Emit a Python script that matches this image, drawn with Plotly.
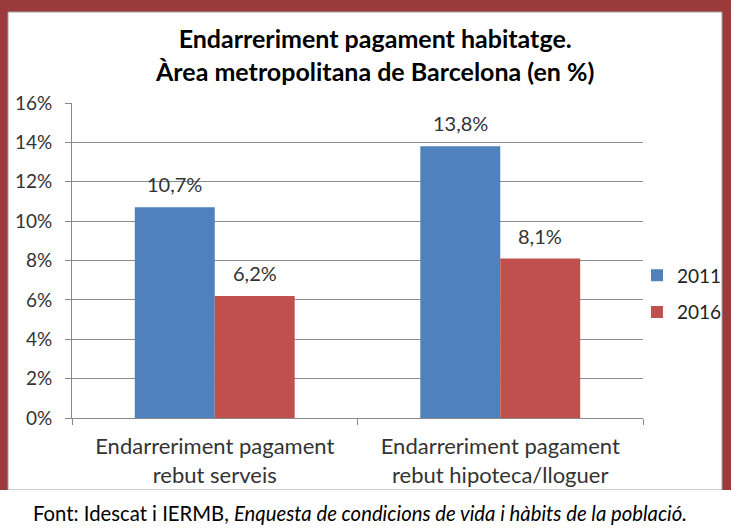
import plotly.graph_objects as go

categories = ["Endarreriment pagament<br>rebut serveis", "Endarreriment pagament<br>rebut hipoteca/lloguer"]
series_names = ["2011", "2016"]
values_2011 = [10.7, 13.8]
values_2016 = [6.2, 8.1]
series_values = [values_2011, values_2016]
colors = ["#4F81BD", "#C0504D"]
tick_vals = [0, 2, 4, 6, 8, 10, 12, 14, 16]
tick_text = [f"{v}%" for v in tick_vals]

W, H = 731, 531
L, R, T, B = 72, 643, 103, 418
pw, ph = R - L, B - T

def px(x):
    return (x - L) / pw

def py(y):
    return (B - y) / ph

FONT = "Lato"
fig = go.Figure()
for i, (name, vals) in enumerate(zip(series_names, series_values)):
    fig.add_trace(go.Bar(x=categories, y=vals, name=name, marker=dict(color=colors[i], line=dict(width=0)),
                         legendgroup=name))

annotations = []
for i, vals in enumerate(series_values):
    for c, v in zip(categories, vals):
        annotations.append(dict(x=c, y=v, xref="x", yref="y", xshift=(-40 if i == 0 else 40), yshift=23,
                                text=(f"{v:.1f}".replace(".", ",") + "%"), showarrow=False,
                                font=dict(family=FONT, size=20, color="#333333"), yanchor="middle"))

annotations.append(dict(x=px(374), y=py(54), xref="paper", yref="paper", showarrow=False,
                        text="<b>Endarreriment pagament habitatge.<br>Àrea metropolitana de Barcelona (en %)</b>",
                        font=dict(family=FONT, size=25, color="#000000"), yanchor="middle", xanchor="center"))
annotations.append(dict(x=px(31), y=py(513), xref="paper", yref="paper", showarrow=False, xanchor="left",
                        yanchor="middle",
                        text="Font: Idescat i IERMB, <i>Enquesta de condicions de vida i hàbits de la població.</i>",
                        font=dict(family=FONT, size=20.3, color="#000000")))

shapes = [
    dict(type="rect", xref="paper", yref="paper", x0=px(8), x1=px(722), y0=py(490), y1=py(12),
         fillcolor="white", line=dict(color="#A0A0A0", width=1), layer="below"),
    dict(type="rect", xref="paper", yref="paper", x0=px(0), x1=px(731), y0=py(531), y1=py(490),
         fillcolor="white", line=dict(width=0), layer="below"),
]

fig.update_layout(
    width=W, height=H,
    margin=dict(l=L, r=W - R, t=T, b=H - B, pad=0, autoexpand=False),
    paper_bgcolor="#9B3A3A",
    plot_bgcolor="white",
    barmode="group",
    bargap=0.44,
    bargroupgap=0,
    separators=",.",
    font=dict(family=FONT, size=17, color="#333333"),
    legend=dict(x=px(637), y=py(294), xanchor="left", yanchor="middle", font=dict(family=FONT, size=19, color="#222222"),
                tracegroupgap=9, bgcolor="rgba(0,0,0,0)", itemwidth=30),
    annotations=annotations,
    shapes=shapes,
    xaxis=dict(showline=True, linecolor="#888888", linewidth=1, ticks="outside", tickson="boundaries",
               ticklen=6, tickcolor="#888888", tickfont=dict(family=FONT, size=22, color="#333333"), showgrid=False,
               ticklabelstandoff=9),
    yaxis=dict(range=[0, 16], tickmode="array", tickvals=tick_vals, ticktext=tick_text, showline=True,
               linecolor="#888888", linewidth=1,
               ticks="outside", ticklen=6, tickcolor="#888888", gridcolor="#8C8C8C", gridwidth=1,
               tickfont=dict(family=FONT, size=19, color="#333333"), zeroline=False, ticklabelstandoff=9),
)

fig.write_html("out.html", config={"displayModeBar": False},
               post_script="document.body.style.margin='0';document.body.style.overflow='hidden';")
